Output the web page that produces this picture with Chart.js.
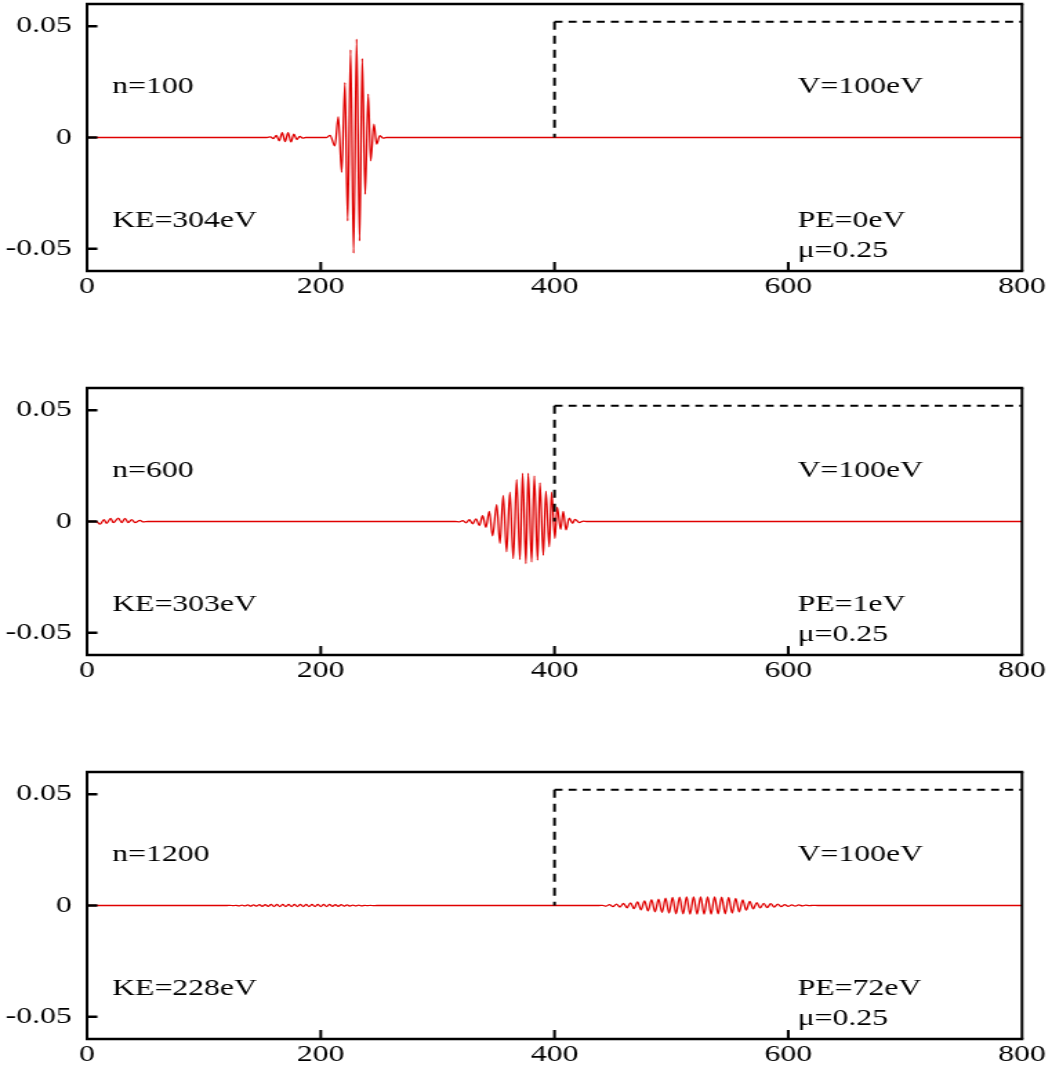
<!DOCTYPE html>
<html>
<head>
<meta charset="utf-8">
<title>wave packet at a step</title>
<script src="https://cdn.jsdelivr.net/npm/chart.js@4.4.1/dist/chart.umd.min.js"></script>
<style>
  body{margin:0;background:#fff;}
  #wrap{position:relative;width:1052px;height:1073px;overflow:hidden;}
</style>
</head>
<body>
<div id="wrap">
  <canvas id="c1" width="762" height="384" style="position:absolute;left:0;top:0px;width:1052px;height:384px"></canvas>
  <canvas id="c2" width="762" height="384" style="position:absolute;left:0;top:384px;width:1052px;height:384px"></canvas>
  <canvas id="c3" width="762" height="384" style="position:absolute;left:0;top:768px;width:1052px;height:384px"></canvas>
</div>
<script>
Chart.defaults.font.family = "'Liberation Serif', 'Times New Roman', serif";
Chart.defaults.font.size   = 23;
Chart.defaults.color       = '#000';

/* the original figure is stretched sideways, so each canvas is drawn narrow and widened by css */
const CANVAS_W = 762;
const STRETCH  = 1052 / CANVAS_W;

/* ---------- axes ---------- */
const xTicks      = [0, 200, 400, 600, 800];
const yTicks      = [-0.05, 0, 0.05];
const yTickLabels = ['-0.05', '0', '0.05'];

/* step potential (dashed) */
const potX = [400, 400, 800];
const potY = [0, 0.052, 0.052];

/* ---------- n=100 ---------- */
const wave1X = [0, 154,
  157, 159.5, 162, 164.5, 167, 169.5, 172, 174.5, 177, 179.5, 182, 184.5,
  187, 205,
  207.9, 212.1, 215.0, 217.9, 220.7, 223.0, 225.5, 228.1, 230.7, 233.2,
  235.5, 238.0, 240.6, 242.7, 245.5, 247.8, 250.6, 253.4,
  256, 800];
const wave1Y = [0, 0,
  0.0003, -0.0005, 0.0009, -0.0015, 0.0022, -0.0018, 0.0022, -0.002, 0.0015, -0.0009, 0.0005, -0.0003,
  0, 0,
  0.001, -0.0038, 0.0094, -0.0157, 0.0247, -0.0375, 0.0394, -0.052, 0.0442, -0.0465,
  0.0355, -0.0255, 0.0195, -0.0105, 0.006, -0.003, 0.0008, -0.0003,
  0, 0];

/* ---------- n=600 ---------- */
const wave2X = [0, 8,
  11.1, 14.5, 16.8, 20.3, 22.5, 26.8, 29.7, 32.5, 35.3, 38.2, 41.1, 45.3, 48.2,
  52, 315,
  318.6, 321.4, 324.3, 327.1, 330.0, 332.8, 335.7,
  338.5, 341.3, 344.2, 347.0, 350.5, 353.3, 356.1, 359.0, 361.8, 364.7,
  367.6, 370.4, 372.7, 375.5, 377.5, 380.4, 382.7, 385.5, 387.5, 390.4,
  392.6, 395.5, 397.5, 400.3, 402.3, 405.2, 407.5, 409.8, 412.6, 415.5,
  417.5, 421.2, 424.6,
  428, 800];
const wave2Y = [0, 0,
  -0.0012, 0.0008, -0.0008, 0.0014, -0.0005, 0.0015, -0.0005, 0.0014, -0.0005, 0.0008, -0.0005, 0.0005, -0.0002,
  0, 0,
  -0.0002, 0.0004, -0.0006, 0.0008, -0.001, 0.0012, -0.0018,
  0.0026, -0.0026, 0.0045, -0.0065, 0.0076, -0.0098, 0.0117, -0.0136, 0.0132, -0.0167,
  0.0189, -0.0171, 0.0217, -0.0189, 0.0217, -0.0182, 0.0205, -0.0174, 0.0174, -0.0152,
  0.0136, -0.0114, 0.0132, -0.0076, 0.0065, -0.0035, 0.0045, -0.0038, 0.0015, -0.0008,
  0.001, -0.0005, 0.0002,
  0, 0];

/* ---------- n=1200 ---------- */
const wave3X = [0, 120,
  122.5, 125, 127.5, 130, 132.5, 135, 137.5, 140, 142.5, 145,
  147.5, 150, 152.5, 155, 157.5, 160, 162.5, 165, 167.5, 170,
  172.5, 175, 177.5, 180, 182.5, 185, 187.5, 190, 192.5, 195,
  197.5, 200, 202.5, 205, 207.5, 210, 212.5, 215, 217.5, 220,
  222.5, 225, 227.5, 230, 232.5, 235, 237.5, 240, 242.5, 245,
  248, 438,
  441, 444, 447, 450, 453, 456, 459, 462, 465, 468,
  471, 474, 477, 480, 483, 486, 489, 492, 495, 498,
  501, 504, 507, 510, 513, 516, 519, 522, 525, 528,
  531, 534, 537, 540, 543, 546, 549, 552, 555, 558,
  561, 564, 567, 570, 573, 576, 579, 582, 585, 588,
  591, 594, 597, 600, 603, 606, 609, 612, 615, 618, 621,
  625, 800];
const wave3Y = [0, 0,
  0.0001, -0.0001, 0.0001, -0.0002, 0.0002, -0.0002, 0.0003, -0.0003, 0.0003, -0.0003,
  0.0004, -0.0004, 0.0004, -0.0004, 0.0005, -0.0005, 0.0005, -0.0005, 0.0005, -0.0005,
  0.0005, -0.0005, 0.0005, -0.0005, 0.0005, -0.0005, 0.0005, -0.0005, 0.0005, -0.0005,
  0.0005, -0.0005, 0.0005, -0.0005, 0.0005, -0.0004, 0.0004, -0.0004, 0.0004, -0.0003,
  0.0003, -0.0003, 0.0002, -0.0002, 0.0002, -0.0002, 0.0001, -0.0001, 0.0001, -0.0001,
  0, 0,
  0.0001, -0.0003, 0.0004, -0.0005, 0.0006, -0.0007, 0.0009, -0.001, 0.0012, -0.0014,
  0.0016, -0.0019, 0.0021, -0.0024, 0.0026, -0.0028, 0.0029, -0.0031, 0.0033, -0.0034,
  0.0036, -0.0037, 0.0038, -0.0038, 0.0039, -0.0039, 0.0039, -0.0039, 0.0039, -0.0039,
  0.0039, -0.0039, 0.0039, -0.0038, 0.0038, -0.0037, 0.0036, -0.0034, 0.0032, -0.0029,
  0.0025, -0.0021, 0.0018, -0.0015, 0.0013, -0.0011, 0.001, -0.0009, 0.0008, -0.0007,
  0.0006, -0.0005, 0.0004, -0.0004, 0.0003, -0.0003, 0.0003, -0.0002, 0.0002, -0.0001, 0.0001,
  0, 0];

/* ---------- annotations ---------- */
const nLabels  = ['n=100', 'n=600', 'n=1200'];
const keLabels = ['KE=304eV', 'KE=303eV', 'KE=228eV'];
const peLabels = ['PE=0eV', 'PE=1eV', 'PE=72eV'];
const vLabel   = 'V=100eV';
const muLabel  = 'μ=0.25';

const pts = (xs, ys) => xs.map((x, i) => ({ x, y: ys[i] }));

/* box + inward ticks */
const framePlugin = {
  id: 'frame',
  afterDatasetsDraw(chart){
    const { ctx, chartArea: a, scales: { x, y } } = chart;
    ctx.save();
    ctx.strokeStyle = '#000';
    ctx.lineWidth = 2.6;
    ctx.beginPath();
    ctx.moveTo(a.left - 1, a.top);    ctx.lineTo(a.right + 1, a.top);
    ctx.moveTo(a.left - 1, a.bottom); ctx.lineTo(a.right + 1, a.bottom);
    yTicks.forEach(v => {
      const py = y.getPixelForValue(v);
      ctx.moveTo(a.left, py); ctx.lineTo(a.left + 7.5, py);
    });
    ctx.stroke();
    ctx.lineWidth = 2;
    ctx.beginPath();
    ctx.moveTo(a.left, a.top);  ctx.lineTo(a.left, a.bottom);
    ctx.moveTo(a.right, a.top); ctx.lineTo(a.right, a.bottom);
    xTicks.forEach(v => {
      const px = x.getPixelForValue(v);
      ctx.moveTo(px, a.bottom); ctx.lineTo(px, a.bottom - 9);
    });
    ctx.stroke();
    ctx.restore();
  }
};

const textPlugin = {
  id: 'panelText',
  afterDraw(chart, args, opts){
    const { ctx, scales: { x, y } } = chart;
    ctx.save();
    ctx.fillStyle = '#000';
    ctx.font = "23px 'Liberation Serif', 'Times New Roman', serif";
    ctx.textAlign = 'left';
    ctx.textBaseline = 'alphabetic';
    const put = (t, dx, dy) => ctx.fillText(t, x.getPixelForValue(dx), y.getPixelForValue(dy));
    put(opts.n, 21.5, 0.0202);
    put(opts.ke, 21.5, -0.0402);
    put(vLabel, 608, 0.0202);
    put(opts.pe, 608, -0.0404);
    put(muLabel, 608, -0.0538);
    ctx.restore();
  }
};

function makePanel(id, wx, wy, i){
  new Chart(document.getElementById(id), {
    type: 'line',
    data: {
      datasets: [
        { data: pts(potX.slice(0, 2).reverse(), potY.slice(0, 2).reverse()),
          borderColor: '#000', borderWidth: 2, borderDash: [8, 6], pointRadius: 0, order: 0 },
        { data: pts(potX.slice(1), potY.slice(1)),
          borderColor: '#000', borderWidth: 2, borderDash: [5.8, 4.4], pointRadius: 0, order: 0 },
        { data: pts(wx, wy),
          borderColor: '#e00000', borderWidth: 1.3, pointRadius: 0,
          cubicInterpolationMode: 'monotone', order: 1 }
      ]
    },
    options: {
      responsive: false,
      devicePixelRatio: 1,
      animation: false,
      events: [],
      layout: { padding: { left: 0, top: 4, right: CANVAS_W - 1022 / STRETCH, bottom: 73 } },
      plugins: {
        legend: { display: false },
        tooltip: { enabled: false },
        panelText: { n: nLabels[i], ke: keLabels[i], pe: peLabels[i] }
      },
      scales: {
        x: {
          type: 'linear', min: 0, max: 800,
          grid: { display: false, drawTicks: false },
          border: { display: false },
          ticks: { padding: 2, maxRotation: 0, autoSkip: false },
          afterBuildTicks: s => { s.ticks = xTicks.map(v => ({ value: v })); },
          afterFit: s => { s.height = 40; s.paddingLeft = 0; s.paddingRight = 0; }
        },
        y: {
          type: 'linear', min: -0.06, max: 0.06,
          grid: { display: false, drawTicks: false },
          border: { display: false },
          ticks: { padding: 11, callback: (v) => yTickLabels[yTicks.indexOf(v)] },
          afterBuildTicks: s => { s.ticks = yTicks.map(v => ({ value: v })); },
          afterFit: s => { s.width = 87 / STRETCH; s.paddingTop = 0; s.paddingBottom = 0; }
        }
      }
    },
    plugins: [framePlugin, textPlugin]
  });
}

makePanel('c1', wave1X, wave1Y, 0);
makePanel('c2', wave2X, wave2Y, 1);
makePanel('c3', wave3X, wave3Y, 2);
</script>
</body>
</html>
